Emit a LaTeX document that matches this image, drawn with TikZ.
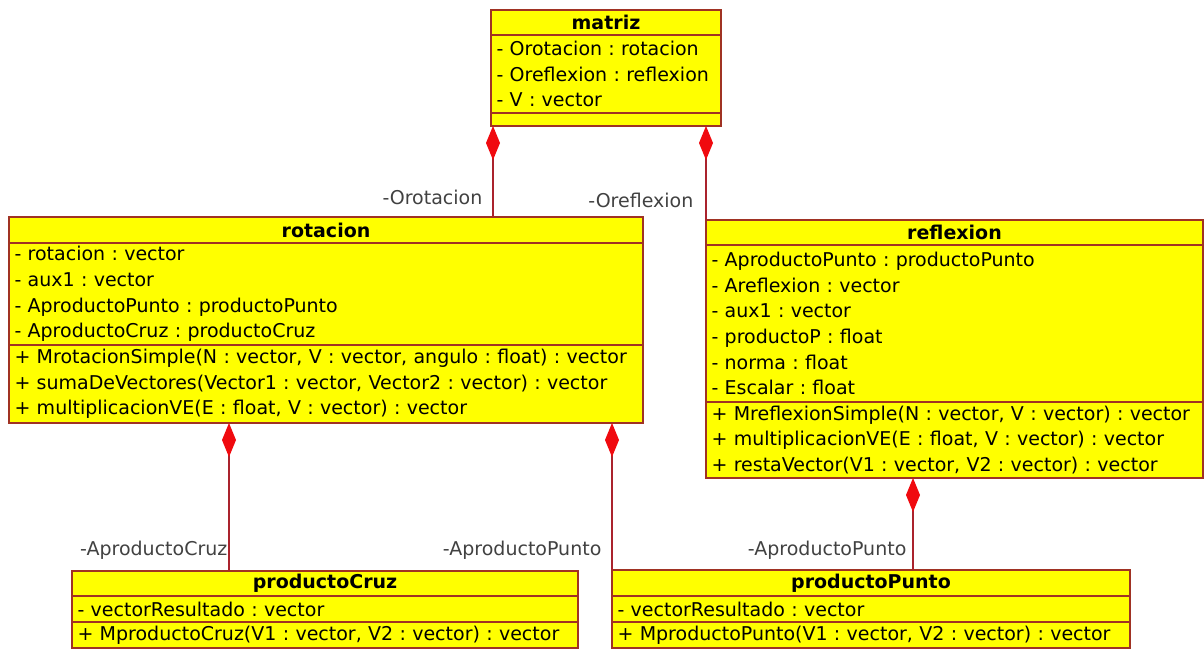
\documentclass[tikz,border=0pt]{standalone}
\usepackage{fontspec}
\setmainfont{DejaVu Sans}
\usetikzlibrary{positioning,arrows.meta}
\definecolor{umlyellow}{RGB}{255,255,0}
\definecolor{umlborder}{RGB}{160,50,35}
\definecolor{umlred}{RGB}{240,10,15}
\definecolor{umlline}{RGB}{170,35,45}
\definecolor{rolegray}{RGB}{65,65,65}
\frenchspacing

\begin{document}
\begin{tikzpicture}[x=1pt,y=-1pt,
  every node/.style={font=\fontsize{19}{25.7}\selectfont},
  classhead/.style={draw=umlborder,fill=umlyellow,line width=1.1pt,outer sep=0pt,inner sep=0pt,
    font=\fontsize{19}{25.7}\selectfont\bfseries},
  classpart/.style={draw=umlborder,fill=umlyellow,line width=1.1pt,outer sep=0pt,
    inner xsep=5.5pt,inner ysep=0pt,align=left,text width=#1},
  compo/.style={{Diamond[length=34pt,width=14pt,fill=umlred,color=umlred]}-,draw=umlline,line width=1.3pt},
  rolelbl/.style={text=rolegray,inner sep=0pt,anchor=east}]
\useasboundingbox (0,0) rectangle (1204,649);

% matriz
\node[classhead,minimum width=230pt,minimum height=25pt,anchor=north west] (matriz) at (491,10) {matriz};
\node[classpart=219pt,minimum height=78pt,below=0pt of matriz] (matriz-attr)
  {- Orotacion : rotacion\\- Oreflexion : reflexion\\- V : vector};
\node[classpart=219pt,minimum height=13pt,below=0pt of matriz-attr] (matriz-ops) {};

% rotacion
\node[classhead,minimum width=634pt,minimum height=26pt,anchor=north west] (rotacion) at (9,217) {rotacion};
\node[classpart=623pt,minimum height=102pt,below=0pt of rotacion] (rotacion-attr)
  {- rotacion : vector\\- aux1 : vector\\- AproductoPunto : productoPunto\\- AproductoCruz : productoCruz};
\node[classpart=623pt,minimum height=78pt,below=0pt of rotacion-attr] (rotacion-ops)
  {+ MrotacionSimple(N : vector, V : vector, angulo : float) : vector\\
   + sumaDeVectores(Vector1 : vector, Vector2 : vector) : vector\\
   + multiplicacionVE(E : float, V : vector) : vector};

% reflexion
\node[classhead,minimum width=497pt,minimum height=25pt,anchor=north west] (reflexion) at (706,220) {reflexion};
\node[classpart=486pt,minimum height=157pt,below=0pt of reflexion] (reflexion-attr)
  {- AproductoPunto : productoPunto\\- Areflexion : vector\\- aux1 : vector\\
   - productoP : float\\- norma : float\\- Escalar : float};
\node[classpart=486pt,minimum height=76pt,below=0pt of reflexion-attr] (reflexion-ops)
  {+ MreflexionSimple(N : vector, V : vector) : vector\\
   + multiplicacionVE(E : float, V : vector) : vector\\
   + restaVector(V1 : vector, V2 : vector) : vector};

% productoCruz
\node[classhead,minimum width=506pt,minimum height=25pt,anchor=north west] (cruz) at (72,571) {productoCruz};
\node[classpart=495pt,minimum height=26pt,below=0pt of cruz] (cruz-attr) {- vectorResultado : vector};
\node[classpart=495pt,minimum height=26pt,below=0pt of cruz-attr] (cruz-ops)
  {+ MproductoCruz(V1 : vector, V2 : vector) : vector};

% productoPunto
\node[classhead,minimum width=518pt,minimum height=26pt,anchor=north west] (punto) at (612,570) {productoPunto};
\node[classpart=507pt,minimum height=26pt,below=0pt of punto] (punto-attr) {- vectorResultado : vector};
\node[classpart=507pt,minimum height=26pt,below=0pt of punto-attr] (punto-ops)
  {+ MproductoPunto(V1 : vector, V2 : vector) : vector};

% composiciones
\draw[compo] ([xshift=2pt]matriz-ops.south west) -- ([xshift=2pt]matriz-ops.south west |- rotacion.north)
  node[rolelbl,at end,xshift=-10pt,yshift=20pt] {-Orotacion};
\draw[compo] (reflexion.north west |- matriz-ops.south) -- (reflexion.north west)
  node[rolelbl,at end,xshift=-12pt,yshift=20pt] {-Oreflexion};
\draw[compo] ([xshift=220pt]rotacion-ops.south west) -- ([xshift=220pt]rotacion-ops.south west |- cruz.north)
  node[rolelbl,at end,xshift=-1pt,yshift=21pt] {-AproductoCruz};
\draw[compo] (punto.north west |- rotacion-ops.south) -- (punto.north west)
  node[rolelbl,at end,xshift=-10pt,yshift=20pt] {-AproductoPunto};
\draw[compo] ([xshift=207pt]reflexion-ops.south west) -- ([xshift=207pt]reflexion-ops.south west |- punto.north)
  node[rolelbl,at end,xshift=-6pt,yshift=20pt] {-AproductoPunto};
\end{tikzpicture}
\end{document}
